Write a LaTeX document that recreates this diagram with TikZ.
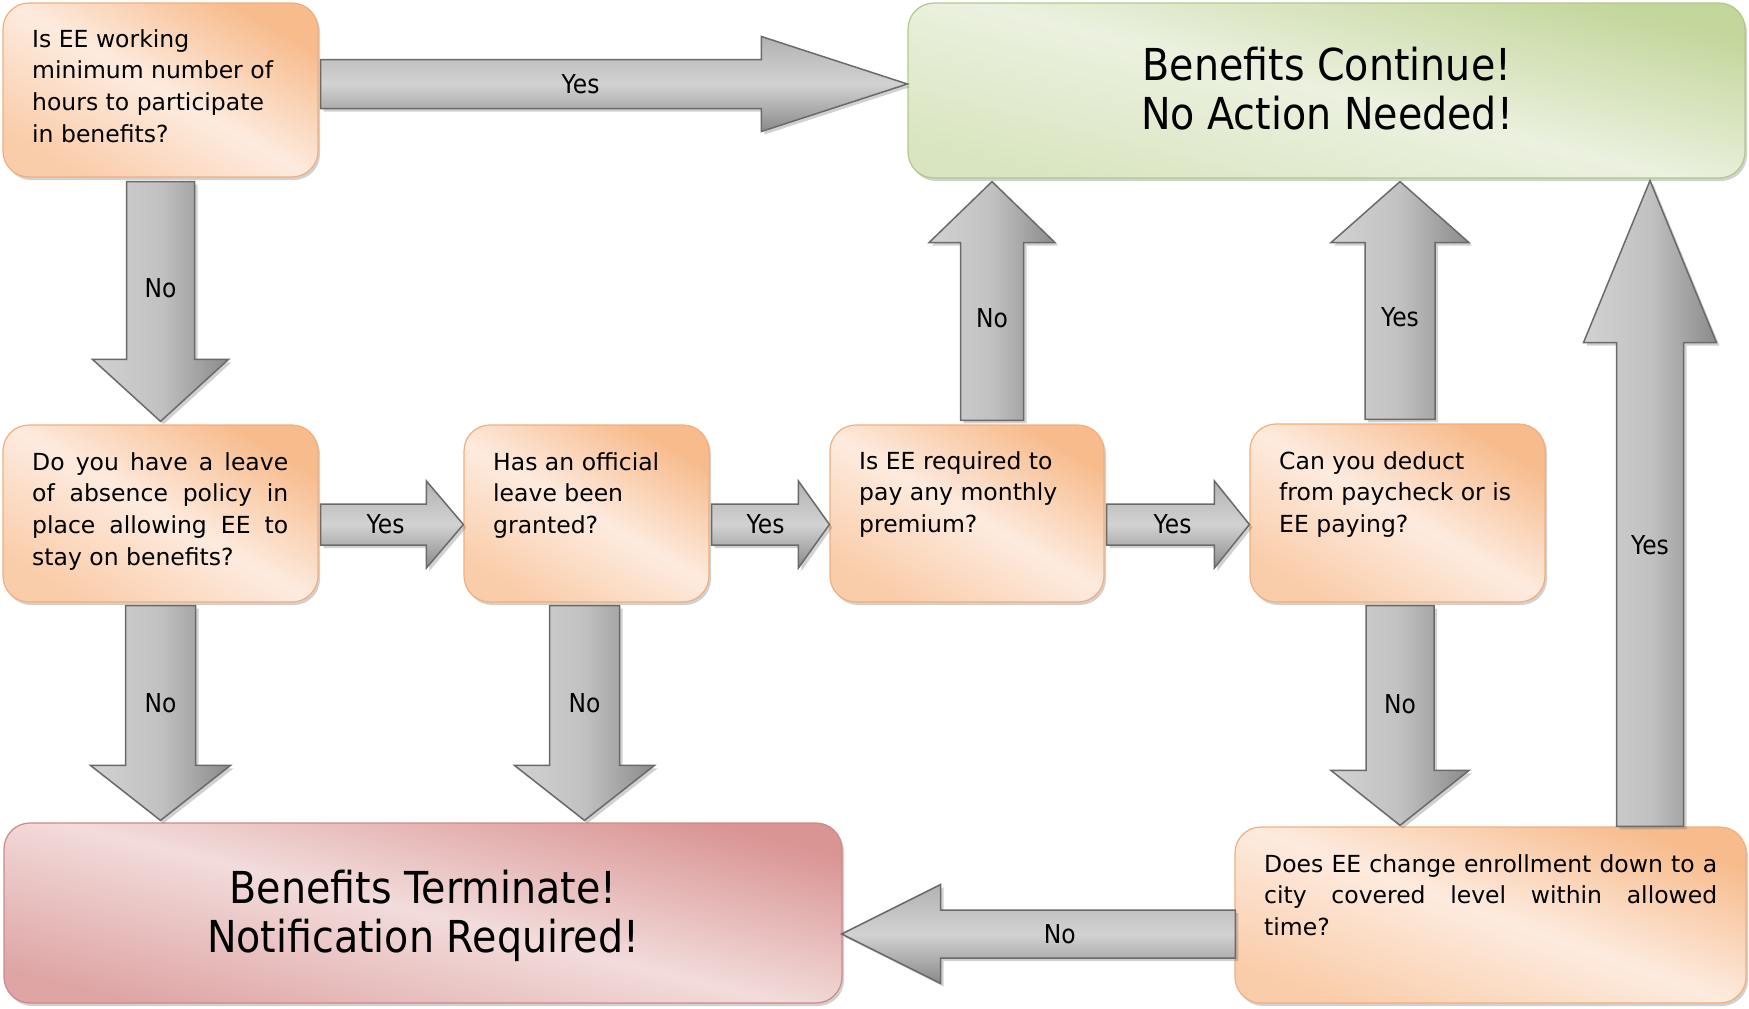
\documentclass[tikz,border=0pt]{standalone}
\usepackage{fontspec}
\setmainfont{DejaVu Sans}
\newfontfamily\condfont[FakeStretch=0.9]{DejaVu Sans}
\usetikzlibrary{calc,shadows}
\definecolor{orDark}{HTML}{F7BB8C}
\definecolor{orLight}{HTML}{FDEBDF}
\definecolor{orMid}{HTML}{FACDAA}
\definecolor{orBorder}{HTML}{F2AE7C}
\definecolor{grDark}{HTML}{C3D69B}
\definecolor{grLight}{HTML}{EBF1DF}
\definecolor{grMid}{HTML}{D9E5C0}
\definecolor{grBorder}{HTML}{B2C988}
\definecolor{rdDark}{HTML}{D99594}
\definecolor{rdLight}{HTML}{F2DCDB}
\definecolor{rdMid}{HTML}{DFA5A5}
\definecolor{rdBorder}{HTML}{D08887}
\definecolor{arrLight}{HTML}{D2D2D2}
\definecolor{arrMid}{HTML}{B2B2B2}
\definecolor{arrDark}{HTML}{8A8A8A}
\definecolor{arrBorder}{HTML}{6A6A6A}
\tikzset{
  box/.style={rectangle, rounded corners=26pt, inner sep=0pt, line width=1.2pt,
    drop shadow={shadow xshift=2pt, shadow yshift=-3pt, opacity=0.3, fill=black!60}},
  obox/.style={box, draw=orBorder, top color=orDark, bottom color=orMid, middle color=orLight, shading angle=-30},
  gbox/.style={box, draw=grBorder, top color=grDark, bottom color=grMid, middle color=grLight, shading angle=-14},
  rbox/.style={box, draw=rdBorder, top color=rdDark, bottom color=rdMid, middle color=rdLight, shading angle=-14},
  btxt/.style={font=\fontsize{23.5}{31.7}\selectfont, align=left, inner sep=0pt, anchor=north west},
  bigtxt/.style={font=\condfont\fontsize{44}{49}\selectfont, align=center, inner sep=0pt},
  barrow/.style={draw=arrBorder, line width=1.5pt, line join=miter,
    drop shadow={shadow xshift=3pt, shadow yshift=-3pt, opacity=0.3, fill=black!60}},
  harr/.style={barrow, top color=arrMid, bottom color=arrDark, middle color=arrLight},
  varr/.style={barrow, left color=arrLight, right color=arrDark, middle color=arrLight!92!black},
  albl/.style={font=\condfont\fontsize{26}{30}\selectfont, inner sep=0pt}
}
% #1 style, #2 from, #3 to, #4 shaft half width, #5 head half width, #6 head length, #7 label pos, #8 label name, #9 label
\newcommand\blockarrow[9][harr]{%
  \coordinate (neck) at ($(#3)!#6!(#2)$);
  \draw[#1] ($(#2)!#4!90:(#3)$) -- ($(neck)!#4!90:(#3)$) -- ($(neck)!#5!90:(#3)$)
    -- (#3) -- ($(neck)!#5!-90:(#3)$) -- ($(neck)!#4!-90:(#3)$) -- ($(#2)!#4!-90:(#3)$) -- cycle;
  \node[albl] (#8) at ($(#2)!#7!(#3)$) {#9};
}
\begin{document}
\begin{tikzpicture}[x=1pt,y=-1pt]
\useasboundingbox (0,0) rectangle (1749,1009);

% boxes
\node[obox, minimum width=315pt, minimum height=174pt] (b1) at (160.5,90) {};
\node[gbox, minimum width=837pt, minimum height=175pt] (green) at (1326.5,90.5) {};
\node[obox, minimum width=315pt, minimum height=177pt] (b2) at (160.5,513.5) {};
\node[obox, minimum width=245pt, minimum height=177pt] (b3) at (586.5,513.5) {};
\node[obox, minimum width=274pt, minimum height=177pt] (b4) at (967,513.5) {};
\node[obox, minimum width=295pt, minimum height=178pt] (b5) at (1397.5,513) {};
\node[rbox, minimum width=838pt, minimum height=180pt] (red) at (423,913) {};
\node[obox, minimum width=511pt, minimum height=176pt, shading angle=-20] (b6) at (1490.5,915) {};

% box texts
\node[bigtxt] (gt) at (1327,89) {Benefits Continue!\\No Action Needed!};
\node[bigtxt] (rt) at (423,916) {Benefits Terminate!\\Notification Required!};
\node[btxt] (t1) at (32,29) {Is EE working\\minimum number of\\hours to participate\\in benefits?};
\node[btxt] (t2) at (32,452) {\makebox[256pt][s]{Do you have a leave}\\\makebox[256pt][s]{of absence policy in}\\\makebox[256pt][s]{place allowing EE to}\\stay on benefits?};
\node[btxt] (t3) at (493,452) {Has an official\\leave been\\granted?};
\node[btxt] (t4) at (859,451) {Is EE required to\\pay any monthly\\premium?};
\node[btxt] (t5) at (1279,451) {Can you deduct\\from paycheck or is\\EE paying?};
\node[btxt] (t6) at (1264,854) {\makebox[453pt][s]{Does EE change enrollment down to a}\\\makebox[453pt][s]{city covered level within allowed}\\time?};

% connectors
\coordinate (a1s) at ($(b1.east)+(2,-6)$);
\coordinate (a1e) at ($(green.west)+(0,-6.5)$);
\blockarrow[harr]{a1s}{a1e}{24.5pt}{47.5pt}{146pt}{0.443}{l1}{Yes}

\coordinate (a2s) at ($(b1.south)+(0,4)$);
\coordinate (a2e) at ($(b2.north)+(0,-3)$);
\blockarrow[varr]{a2s}{a2e}{34pt}{68pt}{62pt}{0.446}{l2}{No}

\coordinate (a3s) at ($(b2.east)+(2,11)$);
\coordinate (a3e) at ($(b3.west)+(0,11)$);
\blockarrow[harr]{a3s}{a3e}{20.5pt}{43.5pt}{37pt}{0.455}{l3}{Yes}

\coordinate (a4s) at ($(b3.east)+(2,11)$);
\coordinate (a4e) at ($(b4.west)+(0,11)$);
\blockarrow[harr]{a4s}{a4e}{20.5pt}{43.5pt}{31pt}{0.458}{l4}{Yes}

\coordinate (a5s) at ($(b4.east)+(2,11)$);
\coordinate (a5e) at ($(b5.west)+(0,11.5)$);
\blockarrow[harr]{a5s}{a5e}{20.5pt}{43.5pt}{35pt}{0.462}{l5}{Yes}

\coordinate (a6s) at ($(b4.north)+(25,-4)$);
\coordinate (a6e) at ($(a6s |- green.south)+(0,3)$);
\blockarrow[varr]{a6s}{a6e}{31.5pt}{63pt}{61pt}{0.43}{l6}{No}

\coordinate (a7s) at ($(b5.north)+(2.5,-4)$);
\coordinate (a7e) at ($(a7s |- green.south)+(0,3)$);
\blockarrow[varr]{a7s}{a7e}{35pt}{69pt}{61pt}{0.43}{l7}{Yes}

\coordinate (a8s) at ($(b2.south)+(0,3)$);
\coordinate (a8e) at ($(a8s |- red.north)+(0,-2)$);
\blockarrow[varr]{a8s}{a8e}{35pt}{70pt}{55pt}{0.456}{l8}{No}

\coordinate (a9s) at ($(b3.south)+(-2,3)$);
\coordinate (a9e) at ($(a9s |- red.north)+(0,-2)$);
\blockarrow[varr]{a9s}{a9e}{35pt}{70pt}{55pt}{0.456}{l9}{No}

\coordinate (a10s) at ($(b5.south)+(2.5,3)$);
\coordinate (a10e) at ($(a10s |- b6.north)+(0,-1)$);
\blockarrow[varr]{a10s}{a10e}{34pt}{69pt}{55pt}{0.45}{l10}{No}

\coordinate (a11s) at ($(b6.north)+(159.5,0)$);
\coordinate (a11e) at ($(a11s |- green.south)+(0,2)$);
\blockarrow[varr]{a11s}{a11e}{33.5pt}{66.5pt}{162pt}{0.435}{l11}{Yes}

\coordinate (a12s) at ($(b6.west)+(1,19)$);
\coordinate (a12e) at ($(red.east)+(-1,21)$);
\blockarrow[harr]{a12s}{a12e}{24pt}{49.5pt}{99pt}{0.446}{l12}{No}
\end{tikzpicture}
\end{document}
